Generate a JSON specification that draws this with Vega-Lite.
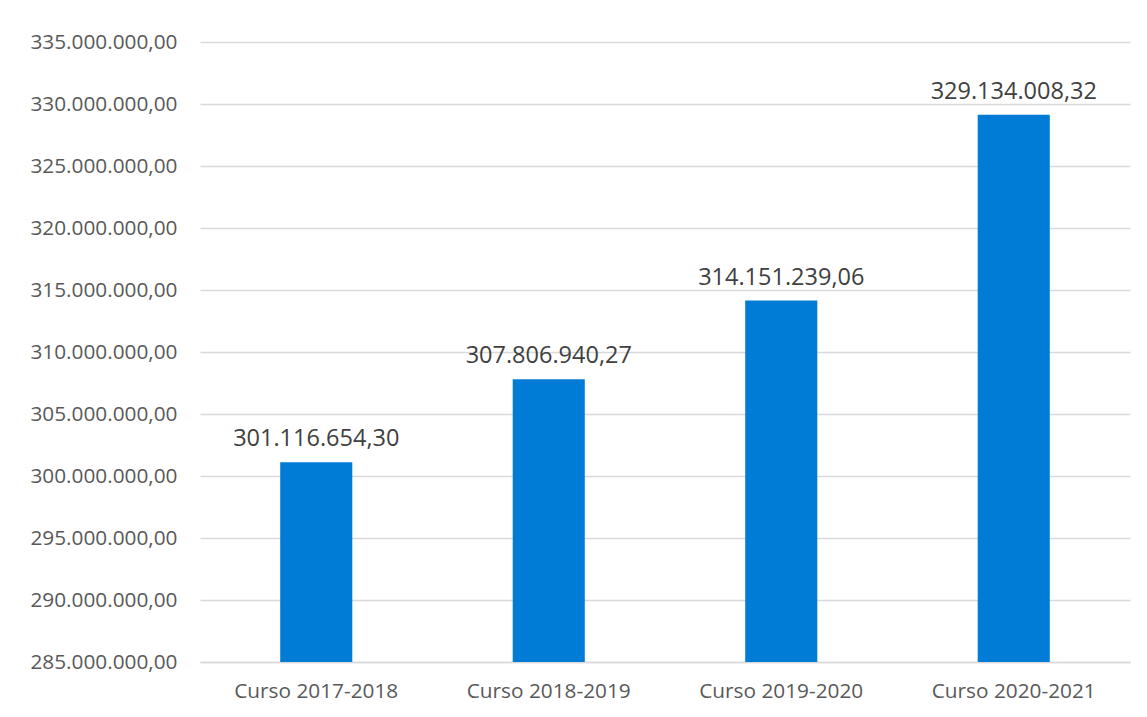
{
  "$schema": "https://vega.github.io/schema/vega-lite/v6.json",
  "autosize": {"type": "none"},
  "width": 930,
  "height": 620,
  "padding": {"left": 200, "top": 42, "right": 17, "bottom": 55},
  "background": "white",
  "config": {
    "locale": {"number": {"decimal": ",", "thousands": ".", "grouping": [3], "currency": ["", " €"]}},
    "view": {"stroke": null},
    "font": "Open Sans"
  },
  "data": {
    "values": [
      {"curso": "Curso 2017-2018", "valor": 301116654.30},
      {"curso": "Curso 2018-2019", "valor": 307806940.27},
      {"curso": "Curso 2019-2020", "valor": 314151239.06},
      {"curso": "Curso 2020-2021", "valor": 329134008.32}
    ]
  },
  "encoding": {
    "x": {
      "field": "curso", "type": "nominal", "sort": null, "title": null,
      "scale": {"paddingInner": 0.69, "paddingOuter": 0.345},
      "axis": {"labelAngle": 0, "ticks": false, "domainColor": "#d9d9d9", "domainWidth": 1.5, "labelColor": "#595959", "labelFontSize": 20.8, "labelPadding": 19, "labelFont": "Open Sans"}
    },
    "y": {
      "field": "valor", "type": "quantitative", "title": null,
      "scale": {"domain": [285000000, 335000000], "zero": false, "nice": false},
      "axis": {"values": [285000000, 290000000, 295000000, 300000000, 305000000, 310000000, 315000000, 320000000, 325000000, 330000000, 335000000], "format": ",.2f", "domain": false, "ticks": false, "gridColor": "#d9d9d9", "gridWidth": 1.5, "labelColor": "#595959", "labelFontSize": 20.8, "labelPadding": 23, "labelFont": "Open Sans"}
    }
  },
  "layer": [
    {"mark": {"type": "bar", "color": "#007CD6", "clip": true}, "encoding": {"y2": {"datum": 285000000}}},
    {"mark": {"type": "text", "dy": -11, "baseline": "bottom", "fontSize": 23.5, "color": "#404040", "font": "Open Sans"},
     "encoding": {"text": {"field": "valor", "type": "quantitative", "format": ",.2f"}}}
  ]
}
